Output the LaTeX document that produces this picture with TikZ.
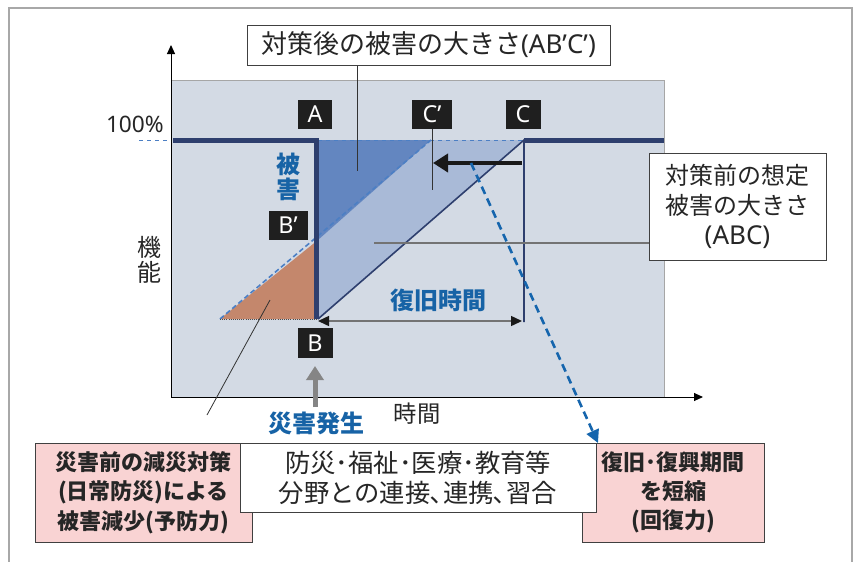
\documentclass[tikz,border=0pt]{standalone}
\usepackage{fontspec}
\setmainfont{Noto Sans CJK JP}
\newfontfamily\lat{Noto Sans}
\usetikzlibrary{arrows.meta}
\definecolor{plotbg}{HTML}{D3DAE4}
\definecolor{navy}{HTML}{2E3F6E}
\definecolor{dkblue}{HTML}{6386C0}
\definecolor{ltblue}{HTML}{A9BAD7}
\definecolor{orng}{HTML}{C4876C}
\definecolor{txtblue}{HTML}{1763A6}
\definecolor{pinkbg}{HTML}{F9D3D3}
\definecolor{dashblue}{HTML}{4C7FC4}
\definecolor{arrblue}{HTML}{1565AD}
\definecolor{framegray}{HTML}{A8A8A8}
\newcommand\fsz[2]{\fontsize{#1}{#2}\selectfont}
\begin{document}
\begin{tikzpicture}[x=0.75pt,y=-0.75pt,
  lbl/.style={fill=black!88, text=white, inner sep=0pt, font=\lat\fsz{17.5pt}{18pt}, minimum height=21.75pt},
  box/.style={draw=black!75, line width=0.75pt, inner sep=0pt, align=center},
  pinkbox/.style={box, fill=pinkbg, text=black!85, font=\bfseries\fsz{16.5pt}{22pt}},
  bluetxt/.style={text=txtblue, font=\bfseries\fsz{18pt}{19pt}, inner sep=0pt, align=center},
  thinln/.style={line width=0.75pt},
]
\useasboundingbox (0,0) rectangle (853,561);
\draw[framegray, line width=1.1pt] (9,565) -- (9,8) -- (852,8) -- (852,565);

% points
\coordinate (A) at (318,140);
\coordinate (Bp) at (318,240);
\coordinate (B) at (318,319);
\coordinate (Cp) at (431,140);
\coordinate (C) at (524,140);
\coordinate (D) at (220,319);
\coordinate (Cb) at (524,322);
\coordinate (O) at (171,397);
\coordinate (Ytop) at (171,45);
\coordinate (Xend) at (703,397);

% plot area
\fill[plotbg] (171,80) rectangle (664,397);
\draw[black!35, thinln] (171,80) -- (664,80) -- (664,397);
\fill[ltblue] (Bp) -- (Cp) -- (C) -- (B) -- cycle;
\fill[dkblue] (A) -- (Cp) -- (Bp) -- cycle;
\fill[orng] (D) -- (Bp) -- (B) -- cycle;
\draw[dashblue, dashed, thinln] (139,140) -- (171,140);
\draw[dashblue, dashed, thinln] (A) -- (C);
\draw[dashblue, dash pattern=on 3.75pt off 2.25pt, line width=1.2pt] (D) -- (Cp);
\draw[black!70, densely dotted, line width=0.6pt] (D) -- (B);
\draw[navy, line width=1.2pt] (B) -- (C) -- (Cb);
\draw[navy, line width=3.75pt] (173,140) -- (316,140) -- (316,319);
\draw[navy, line width=3.75pt] (C) -- (664,140);

% axes
\draw[thinln, -{Triangle[length=6.75pt,width=6pt]}] (O) -- (Ytop);
\draw[thinln, -{Triangle[length=6.75pt,width=6pt]}] (O) -- (Xend);

% letter labels
\node[lbl, minimum width=25.5pt] (lA) at (315,114) {A};
\node[lbl, minimum width=30pt] (lCp) at (432,114) {C’};
\node[lbl, minimum width=26.25pt] (lC) at (523,114) {C};
\node[lbl, minimum width=29.25pt] (lBp) at (288,225) {B’};
\node[lbl, minimum width=26.25pt, minimum height=22.5pt] (lB) at (315,343) {B};

% texts
\node[font=\lat\fsz{17pt}{18pt}, anchor=east, inner sep=0pt, text=black!85] (pct) at (164,124) {100\%};
\node[font=\fsz{18pt}{19pt}, align=center, inner sep=0pt, text=black!85] (kino) at (149,260) {機\\能};
\node[font=\fsz{17.5pt}{18pt}, inner sep=0pt, text=black!85] (jikan) at (417,414) {時間};
\node[bluetxt] (higai) at (288,177) {被\\害};
\node[bluetxt] (fukkyu) at (438,300) {復旧時間};
\node[bluetxt] (saigai) at (316,423) {災害発生};

% boxes
\node[box, fill=white, minimum width=272.25pt, minimum height=30pt, font=\fsz{19.5pt}{20pt}, text=black!85] (top) at (428.5,45) {対策後の被害の大きさ{\lat(AB’C’)}};
\node[box, fill=white, minimum width=132.75pt, minimum height=80.25pt, font=\fsz{18pt}{22.5pt}, text=black!85] (rbox) at (737.5,206.5) {対策前の想定\\被害の大きさ\\{\lat\fontsize{19.5pt}{22.5pt}\selectfont(ABC)}};
\node[pinkbox, minimum width=162.75pt, minimum height=74.25pt] (pinkL) at (143.5,492.5) {災害前の減災対策\\(日常防災)による\\被害減少(予防力)};
\node[pinkbox, minimum width=136.5pt, minimum height=74.25pt] (pinkR) at (673,492.5) {復旧･復興期間\\を短縮\\(回復力)};
\node[box, fill=white, minimum width=267pt, minimum height=51.75pt, font=\fsz{19pt}{22.5pt}, text=black!85] (mid) at (418,477.5) {防災･福祉･医療･教育等\\分野との連接､連携､習合};

% leader lines
\coordinate (t1) at (357,171);
\draw[black!80, thinln] (top.south -| t1) -- (t1);
\coordinate (r1) at (374,243);
\draw[black!55, line width=1pt] (r1 -| rbox.west) -- (r1);
\coordinate (o1) at (270,300);
\coordinate (o2) at (207,415);
\draw[black!80, line width=0.6pt] (o1) -- (o2);
\coordinate (cp1) at (432,190);
\draw[black!80, thinln] (lCp.south) -- (cp1);

% arrows
\coordinate (k1) at (522,163);
\coordinate (k2) at (433,163);
\draw[black!90, line width=3.4pt, -{Triangle[length=11.25pt,width=13.5pt]}] (k1) -- (k2);
\coordinate (g1) at (315,407);
\coordinate (g2) at (315,366);
\draw[black!48, line width=3.75pt, -{Triangle[length=10.5pt,width=12.75pt]}] (g1) -- (g2);
\coordinate (b1) at (471,163);
\coordinate (b2) at (598,443);
\draw[arrblue, line width=1.95pt, dash pattern=on 6pt off 3.75pt, -{Triangle[length=9.75pt,width=9.75pt]}] (b1) -- (b2);
\coordinate (d1) at (318,321);
\coordinate (d2) at (522,321);
\draw[black!55, line width=1.1pt, {Triangle[length=8.25pt,width=7.5pt,color=black!90]}-{Triangle[length=8.25pt,width=7.5pt,color=black!90]}] (d1) -- (d2);
\end{tikzpicture}
\end{document}
